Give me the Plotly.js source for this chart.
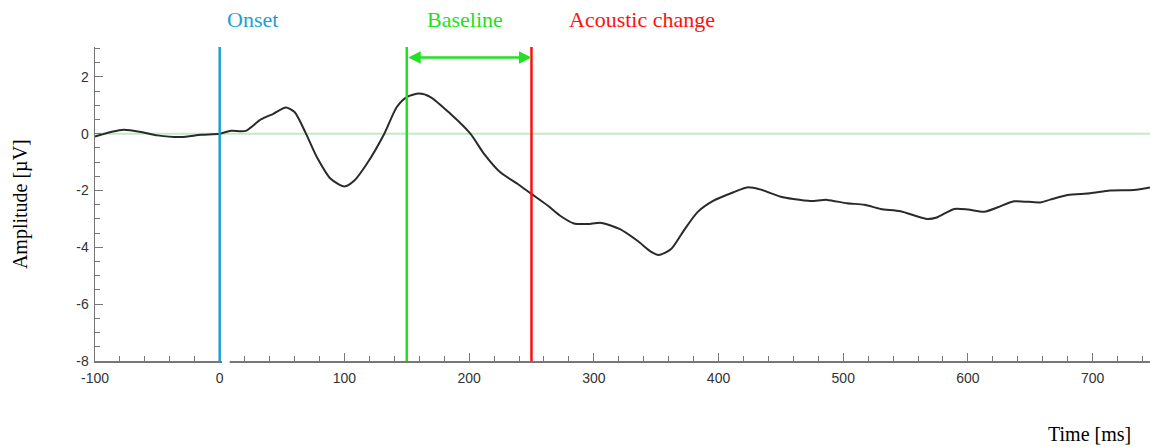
<!DOCTYPE html>
<html>
<head>
<meta charset="utf-8">
<script src="https://cdn.plot.ly/plotly-3.0.1.min.js"></script>
<style>html,body{margin:0;padding:0;background:#fff;}#chart{width:1150px;height:447px;}</style>
</head>
<body>
<div id="chart"></div>
<script>
// Time (ms) and amplitude (µV) of the ERP waveform
const timeMs = [-100,-87,-77,-63,-50,-31,-15,0,9,21,33,43,53,60,69,78,89,100,108,118,132,142,150,160,169,185,201,212,225,239,250,263,273,284,295,306,321,335,346,352,362,372,383,396,412,423,434,450,460,474,487,503,517,530,546,567,575,589,600,613,624,637,658,666,680,698,714,733,746];
const amplitude = [-0.1,0.06,0.14,0.06,-0.06,-0.12,-0.04,0,0.1,0.1,0.5,0.7,0.92,0.76,0.02,-0.83,-1.59,-1.86,-1.65,-1.06,0,0.94,1.29,1.41,1.29,0.7,0,-0.71,-1.36,-1.77,-2.12,-2.53,-2.89,-3.16,-3.18,-3.14,-3.36,-3.77,-4.16,-4.27,-4.06,-3.42,-2.77,-2.36,-2.06,-1.89,-1.97,-2.22,-2.3,-2.37,-2.33,-2.45,-2.5,-2.65,-2.73,-3.0,-2.95,-2.65,-2.67,-2.75,-2.59,-2.38,-2.42,-2.32,-2.16,-2.1,-2.0,-1.98,-1.89];

// Event markers
const eventTimes = [0, 150, 250];
const eventLabels = ["Onset", "Baseline", "Acoustic change"];
const eventLabelPos = [26.5, 197, 338.5];
const eventColors = ["#1e9fd2", "#22e022", "#ff1010"];
const baselineRange = [150, 250];
const xTickVals = [-100, 0, 100, 200, 300, 400, 500, 600, 700];
const yTickVals = [-8, -6, -4, -2, 0, 2];

const shapes = [
  {type:'line', xref:'x', yref:'y', x0:-100, x1:746, y0:0, y1:0, line:{color:'rgba(150,215,150,0.55)', width:2}, layer:'below'},
  {type:'rect', xref:'x', yref:'paper', x0:1.8, x1:8, y0:-0.008, y1:0.008, fillcolor:'#fff', line:{width:0}, layer:'above'}
];
eventTimes.forEach((t,i)=>{
  shapes.push({type:'line', xref:'x', yref:'y', x0:t, x1:t, y0:-8, y1:3.05, line:{color:eventColors[i], width:2.5}});
});

const serif = 'Liberation Serif, Times New Roman, serif';
const annotations = eventLabels.map((lab,i)=>({
  xref:'x', yref:'paper', x:eventLabelPos[i], y:1.089, text:lab, showarrow:false,
  xanchor:'center', yanchor:'middle', font:{family:serif, size:22, color:eventColors[i]}
}));
annotations.push({
  xref:'x', yref:'y', axref:'x', ayref:'y', x:baselineRange[1], y:2.68, ax:baselineRange[0], ay:2.68,
  text:'', showarrow:true, arrowhead:2, arrowside:'end+start', arrowsize:1, arrowwidth:2.5,
  arrowcolor:eventColors[1], standoff:0, startstandoff:0
});
annotations.push({
  xref:'paper', yref:'paper', x:-0.071, y:0.5, text:'Amplitude [µV]', textangle:-90, showarrow:false,
  xanchor:'center', yanchor:'middle', font:{family:serif, size:20, color:'#000'}
});
annotations.push({
  xref:'paper', yref:'paper', x:0.943, y:-0.232, text:'Time [ms]', showarrow:false,
  xanchor:'center', yanchor:'middle', font:{family:serif, size:20, color:'#000'}
});

const trace = {
  x: timeMs, y: amplitude, type:'scatter', mode:'lines',
  line:{color:'#2a2a2a', width:2, shape:'spline', smoothing:0.7},
  hoverinfo:'skip'
};

const tickFont = {family:'Liberation Sans Narrow, Arial Narrow, Liberation Sans, sans-serif', size:14, color:'#333'};
const layout = {
  width:1150, height:447,
  margin:{l:95, r:0, t:47, b:86},
  paper_bgcolor:'#fff', plot_bgcolor:'#fff',
  showlegend:false,
  xaxis:{
    range:[-100,746], showgrid:false, zeroline:false,
    showline:true, linecolor:'#777', linewidth:1.5,
    ticks:'inside', ticklen:8, tickwidth:1, tickcolor:'#777',
    tickvals:xTickVals, ticktext:xTickVals.map(String),
    minor:{dtick:20, tick0:0, ticks:'inside', ticklen:5, tickcolor:'#777', tickwidth:1},
    tickfont:tickFont,
    ticklabelstandoff:4
  },
  yaxis:{
    range:[-8,3.05], showgrid:false, zeroline:false,
    showline:true, linecolor:'#777', linewidth:1.5,
    ticks:'inside', ticklen:8, tickwidth:1, tickcolor:'#777',
    tickvals:yTickVals, ticktext:yTickVals.map(String),
    minor:{dtick:0.5, tick0:0, ticks:'inside', ticklen:5, tickcolor:'#777', tickwidth:1},
    tickfont:tickFont,
    ticklabelstandoff:2
  },
  shapes: shapes,
  annotations: annotations
};

Plotly.newPlot('chart', [trace], layout, {staticPlot:true, displayModeBar:false});
</script>
</body>
</html>
